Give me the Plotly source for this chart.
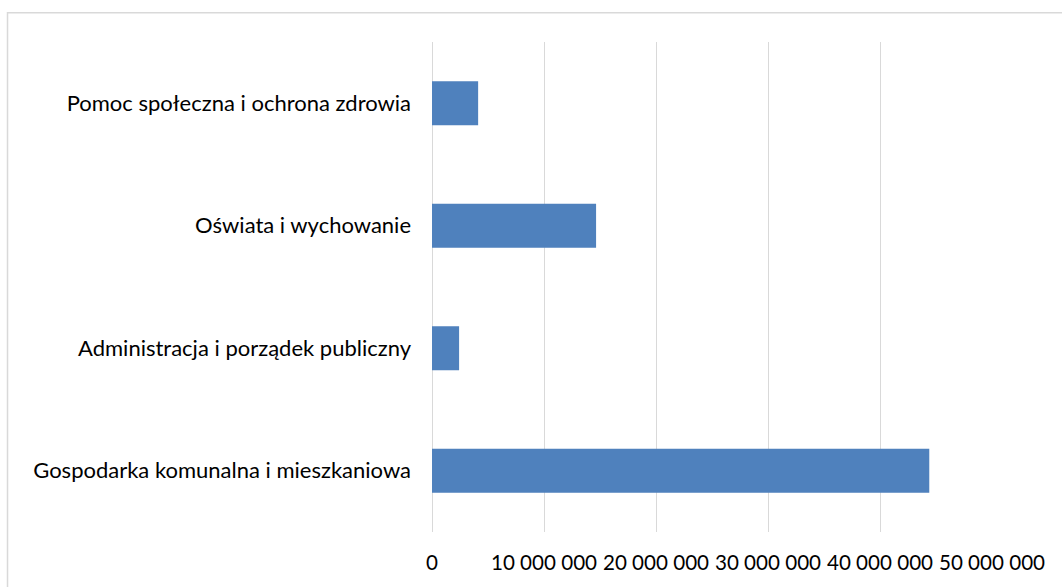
import plotly.graph_objects as go

categories = [
    "Gospodarka komunalna i mieszkaniowa",
    "Administracja i porządek publiczny",
    "Oświata i wychowanie",
    "Pomoc społeczna i ochrona zdrowia",
]
values = [44400000, 2420000, 14650000, 4120000]
tick_vals = [0, 10000000, 20000000, 30000000, 40000000, 50000000]
tick_text = ["0", "10 000 000", "20 000 000", "30 000 000", "40 000 000", "50 000 000"]

FONT = "Lato"
FSIZE = 22
GRID = "#D9D9D9"

fig = go.Figure(
    go.Bar(
        x=values,
        y=categories,
        orientation="h",
        marker=dict(color="#4F81BD", line=dict(color="#4F81BD", width=0)),
        hoverinfo="x+y",
    )
)

fig.update_layout(
    width=1062,
    height=587,
    margin=dict(l=432, r=70, t=42, b=55, autoexpand=False),
    paper_bgcolor="white",
    plot_bgcolor="white",
    bargap=0.64,
    showlegend=False,
    font=dict(family=FONT, size=FSIZE, color="#000000"),
    shapes=[
        dict(
            type="rect",
            xref="paper",
            yref="paper",
            x0=-0.758,
            x1=1.3,
            y0=-0.3,
            y1=1.0598,
            line=dict(color=GRID, width=1.5),
            fillcolor="rgba(0,0,0,0)",
            layer="below",
        )
    ],
)

fig.update_xaxes(
    range=[0, 50000000],
    tickvals=tick_vals,
    ticktext=tick_text,
    tickangle=0,
    showgrid=True,
    gridcolor=GRID,
    gridwidth=1,
    zeroline=True,
    zerolinecolor=GRID,
    zerolinewidth=1,
    showline=False,
    ticks="",
    ticklabelstandoff=16,
    tickfont=dict(family=FONT, size=20.6, color="#000000"),
)

fig.update_yaxes(
    categoryorder="array",
    categoryarray=categories,
    showgrid=False,
    showline=False,
    ticks="",
    ticklabelstandoff=20,
    tickfont=dict(family=FONT, size=FSIZE, color="#000000"),
)

fig.write_html(
    "out.html",
    config={"displayModeBar": False},
    post_script="document.body.style.margin='0';document.body.style.overflow='hidden';",
)
